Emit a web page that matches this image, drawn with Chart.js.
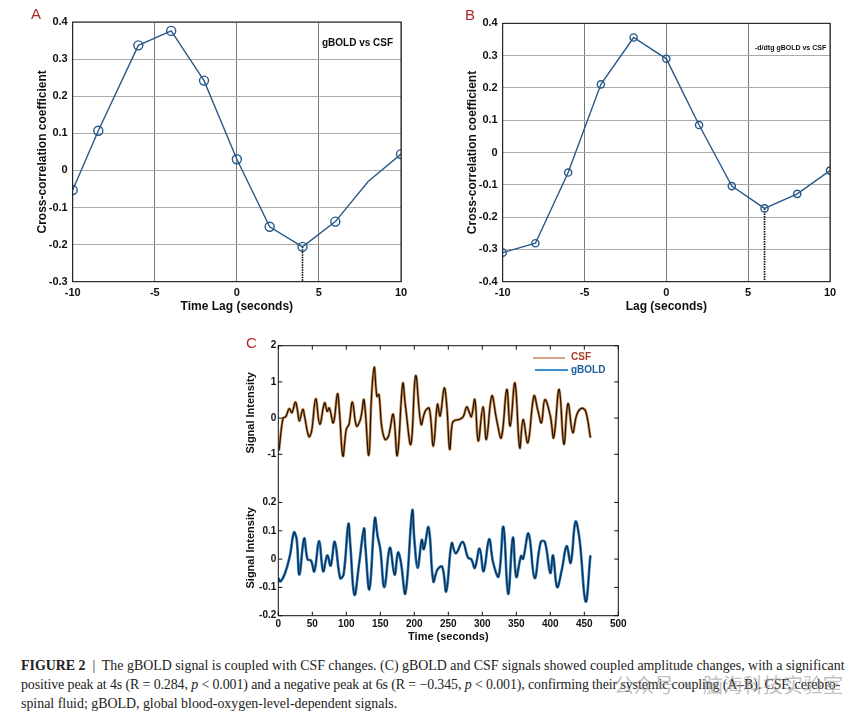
<!DOCTYPE html>
<html>
<head>
<meta charset="utf-8">
<script src="https://cdn.jsdelivr.net/npm/chart.js@4.4.0/dist/chart.umd.min.js"></script>
<style>
  body { margin: 0; background: #fff; width: 864px; height: 721px; position: relative; overflow: hidden; }
  canvas { position: absolute; }
  .lbl { position: absolute; font-family: "Liberation Sans", Arial, sans-serif; color: #b0282c; font-size: 15px; }
  .note { position: absolute; font-family: "Liberation Sans", Arial, sans-serif; color: #111; font-weight: bold; white-space: nowrap; }
  .cap { position: absolute; left: 21px; font-family: "Liberation Serif", "Times New Roman", serif; font-size: 13.9px; line-height: 19px; color: #222; white-space: nowrap; }
  .leg { position: absolute; height: 2px; }
  .legt { position: absolute; font-family: "Liberation Sans", Arial, sans-serif; font-weight: bold; font-size: 10px; }
  .wm { position: absolute; font-family: "Noto Sans CJK SC", sans-serif; font-size: 20px; color: rgba(140,140,140,0.55); white-space: nowrap; }
</style>
</head>
<body>
<canvas id="chartA" style="left:0;top:0;width:430px;height:320px"></canvas>
<canvas id="chartB" style="left:430px;top:0;width:434px;height:320px"></canvas>
<canvas id="chartC" style="left:230px;top:330px;width:400px;height:320px"></canvas>

<div class="lbl" style="left:31px;top:5px">A</div>
<div class="lbl" style="left:465px;top:6px">B</div>
<div class="lbl" style="left:246px;top:334px">C</div>
<div class="note" style="left:322px;top:37px;font-size:10px">gBOLD vs CSF</div>
<div class="note" style="left:755px;top:44px;font-size:7px">-d/dtg gBOLD vs CSF</div>

<div class="leg" style="left:533px;top:357px;width:32px;background:#d8a688"></div>
<div class="legt" style="left:571px;top:351px;color:#a53a28">CSF</div>
<div class="leg" style="left:535px;top:369px;width:33px;background:#3b8fd2"></div>
<div class="legt" style="left:571px;top:364px;color:#1f5c9e">gBOLD</div>

<div class="cap" style="top:656px"><b>FIGURE 2</b> &nbsp;|&nbsp; The gBOLD signal is coupled with CSF changes. (C) gBOLD and CSF signals showed coupled amplitude changes, with a significant</div>
<div class="cap" style="top:675px;letter-spacing:-0.1px">positive peak at 4s (R = 0.284, <i>p</i> &lt; 0.001) and a negative peak at 6s (R = −0.345, <i>p</i> &lt; 0.001), confirming their systemic coupling (A–B). CSF, cerebro-</div>
<div class="cap" style="top:694px">spinal fluid; gBOLD, global blood-oxygen-level-dependent signals.</div>
<div class="wm" style="left:614px;top:670px">公众号 · 脑海科技实验室</div>

<script>
// panel A: gBOLD vs CSF cross-correlation
const lagA = [-10, -8.44, -6, -4, -2, 0, 2, 4, 6, 8, 10];
const corrA = [-0.053, 0.107, 0.337, 0.376, 0.242, 0.030, -0.152, -0.206, -0.138, -0.03, 0.044];
const markA = [1, 1, 1, 1, 1, 1, 1, 1, 1, 0, 1];
const peakA = 7; // index of the min, dotted line drops from here

// panel B: -d/dt gBOLD vs CSF
const lagB = [-10, -8, -6, -4, -2, 0, 2, 4, 6, 8, 10];
const corrB = [-0.310, -0.281, -0.062, 0.211, 0.356, 0.290, 0.085, -0.104, -0.173, -0.128, -0.056];
const peakB = 8;

// panel C: time series (seconds)
const timeCsf = [1, 7, 11, 16, 20, 25, 28, 31, 36, 39, 45, 49, 55, 61, 68, 72, 75, 81, 87, 90, 95, 100, 104, 109, 115, 121, 126, 133, 137, 141, 145, 148, 152, 157, 162, 169, 175, 183, 187, 195, 202, 210, 216, 222, 228, 234, 238, 244, 248, 252, 256, 260, 266, 272, 277, 281, 284, 289, 294, 301, 306, 314, 321, 328, 336, 341, 348, 355, 360, 367, 376, 382, 387, 392, 400, 405, 413, 420, 426, 433, 439, 446, 452, 459];
const csf = [-0.9, 0.0, 0.04, 0.26, 0.15, 0.44, 0.24, -0.08, 0.24, 0.01, -0.51, -0.36, 0.53, -0.17, 0.42, 0.19, 0.28, -0.13, 0.67, 0.15, -1.05, -0.31, -0.17, 0.44, -0.22, -0.02, 0.5, -1.03, 0.56, 1.41, 0.6, 0.65, -0.22, -0.59, -0.5, 0.1, -1.03, 0.95, 0.33, -0.72, 1.17, -0.17, 0.19, 0.27, -0.77, 0.38, 0.06, 0.83, 0.28, -0.86, -0.13, -0.06, -0.04, 0.04, 0.31, 0.15, 0.04, 0.51, -0.63, 0.31, -0.59, 0.61, -0.04, -0.54, 0.79, -0.22, 0.97, -0.82, -0.04, -0.68, 0.61, 0.19, -0.13, 0.51, 0.06, -0.54, 0.79, -0.72, 0.4, -0.4, 0.1, 0.27, 0.19, -0.54];

const timeBold = [0, 3, 10, 17, 23, 27, 31, 38, 43, 48, 53, 60, 66, 72, 77, 83, 91, 96, 103, 106, 112, 119, 126, 128, 134, 142, 146, 150, 156, 164, 171, 176, 180, 187, 197, 200, 205, 211, 214, 221, 228, 234, 241, 247, 255, 261, 271, 279, 284, 289, 296, 302, 310, 316, 324, 331, 338, 345, 350, 357, 360, 368, 377, 386, 392, 400, 404, 410, 417, 424, 430, 437, 443, 452, 459];
const gbold = [-0.067, -0.079, -0.049, 0.011, 0.094, 0.07, -0.055, 0.073, -0.001, -0.005, -0.043, 0.064, -0.043, 0.013, -0.023, 0.061, -0.067, -0.055, 0.124, 0.046, -0.126, -0.013, 0.108, 0.046, -0.106, 0.144, 0.082, 0.035, -0.099, 0.04, -0.055, 0.023, -0.007, -0.12, 0.171, 0.07, -0.031, 0.068, 0.035, 0.112, -0.079, -0.037, -0.027, -0.114, 0.056, 0.02, 0.061, 0.005, -0.001, -0.031, 0.037, -0.043, 0.07, -0.013, -0.061, 0.114, -0.123, 0.076, -0.063, 0.011, 0.001, 0.09, -0.067, 0.061, 0.061, -0.049, 0.013, -0.099, -0.037, 0.046, -0.013, 0.132, 0.07, -0.15, 0.013];

const FONT = '"Liberation Sans", Arial, sans-serif';
const LINE_BLUE = '#27598a';

const boxPlugin = {
  id: 'box',
  afterDraw(chart) {
    const a = chart.chartArea, ctx = chart.ctx;
    ctx.save();
    ctx.strokeStyle = '#111';
    ctx.lineWidth = 1;
    ctx.strokeRect(a.left, a.top, a.right - a.left, a.bottom - a.top);
    ctx.restore();
  }
};

// MATLAB style inward ticks on every side
const inTicks = {
  id: 'inTicks',
  afterDraw(chart) {
    const a = chart.chartArea, ctx = chart.ctx, L = 4;
    ctx.save();
    ctx.strokeStyle = '#111';
    ctx.lineWidth = 1;
    ctx.beginPath();
    Object.values(chart.scales).forEach(s => {
      s.ticks.forEach(t => {
        if (s.isHorizontal()) {
          const x = s.getPixelForValue(t.value);
          ctx.moveTo(x, a.bottom); ctx.lineTo(x, a.bottom - L);
          ctx.moveTo(x, a.top); ctx.lineTo(x, a.top + L);
        } else {
          const y = s.getPixelForValue(t.value);
          ctx.moveTo(a.left, y); ctx.lineTo(a.left + L, y);
          ctx.moveTo(a.right, y); ctx.lineTo(a.right - L, y);
        }
      });
    });
    ctx.stroke();
    ctx.restore();
  }
};

function xcorrChart(id, lags, vals, marks, peak, xTitle, yMin, radius, top) {
  return new Chart(document.getElementById(id), {
    type: 'line',
    data: {
      datasets: [
        {
          data: lags.map((x, i) => ({ x: x, y: vals[i] })),
          borderColor: LINE_BLUE,
          borderWidth: 1.4,
          pointStyle: 'circle',
          pointRadius: marks.map(m => m ? radius : 0),
          pointBorderColor: LINE_BLUE,
          pointBorderWidth: 1.4,
          pointBackgroundColor: 'rgba(0,0,0,0)',
          tension: 0,
          order: 0
        },
        {
          data: [{ x: lags[peak], y: vals[peak] }, { x: lags[peak], y: yMin }],
          borderColor: '#000',
          borderWidth: 1.6,
          borderDash: [1.5, 1],
          pointRadius: 0,
          order: 1
        }
      ]
    },
    options: {
      responsive: false,
      animation: false,
      devicePixelRatio: 1,
      layout: { padding: { left: 31, top: top, right: id === 'chartA' ? 29 : 34, bottom: 2 } },
      plugins: { legend: { display: false }, tooltip: { enabled: false } },
      scales: {
        x: {
          type: 'linear', min: -10, max: 10,
          afterFit: s => { s.height = 36.3; },
          ticks: { stepSize: 5, padding: 5, color: '#111', font: { family: FONT, size: 11, weight: 'bold' } },
          grid: { color: '#7a7a7a', drawTicks: false },
          border: { display: false },
          title: { display: true, text: xTitle, color: '#111', font: { family: FONT, size: 12, weight: 'bold' }, padding: { top: 0, bottom: 4 } }
        },
        y: {
          type: 'linear', min: yMin, max: 0.4,
          afterFit: s => { s.width = 41.7; },
          ticks: { stepSize: 0.1, padding: 5, color: '#111', font: { family: FONT, size: 11, weight: 'bold' } },
          grid: { color: '#ababab', drawTicks: false },
          border: { display: false },
          title: { display: true, text: 'Cross-correlation coefficient', color: '#111', font: { family: FONT, size: 12, weight: 'bold' }, padding: { top: 4, bottom: 0 } }
        }
      }
    },
    plugins: [boxPlugin]
  });
}

// canvases are drawn at 1:1
['chartA', 'chartB', 'chartC'].forEach(id => {
  const c = document.getElementById(id);
  c.width = parseInt(c.style.width);
  c.height = parseInt(c.style.height);
});

xcorrChart('chartA', lagA, corrA, markA, peakA, 'Time Lag (seconds)', -0.3, 4.5, 22);
xcorrChart('chartB', lagB, corrB, lagB.map(() => 1), peakB, 'Lag (seconds)', -0.4, 3.6, 23.3);

const tickFontC = { family: FONT, size: 10, weight: 'bold' };
const titleFontC = { family: FONT, size: 11, weight: 'bold' };

new Chart(document.getElementById('chartC'), {
  type: 'line',
  data: {
    datasets: [
      {
        data: timeCsf.map((t, i) => ({ x: t, y: csf[i] })),
        yAxisID: 'yTop', borderColor: '#1c140c', borderWidth: 1.2,
        pointRadius: 0, tension: 0.4, order: 0
      },
      {
        data: timeCsf.map((t, i) => ({ x: t, y: csf[i] })),
        yAxisID: 'yTop', borderColor: '#d08a48', borderWidth: 2.7,
        pointRadius: 0, tension: 0.4, order: 1
      },
      {
        data: timeBold.map((t, i) => ({ x: t, y: gbold[i] })),
        yAxisID: 'yBot', borderColor: '#11294a', borderWidth: 1.2,
        pointRadius: 0, tension: 0.4, order: 0
      },
      {
        data: timeBold.map((t, i) => ({ x: t, y: gbold[i] })),
        yAxisID: 'yBot', borderColor: '#2a80c0', borderWidth: 2.7,
        pointRadius: 0, tension: 0.4, order: 1
      }
    ]
  },
  options: {
    responsive: false,
    animation: false,
    devicePixelRatio: 1,
    layout: { padding: { left: 14.4, top: 15.7, right: 11.7, bottom: 2 } },
    plugins: { legend: { display: false }, tooltip: { enabled: false } },
    scales: {
      x: {
        type: 'linear', min: 0, max: 500,
        afterFit: s => { s.height = 32.3; },
        ticks: { stepSize: 50, padding: 3, color: '#111', font: tickFontC },
        grid: { display: false, drawTicks: false },
        border: { display: false },
        title: { display: true, text: 'Time (seconds)', color: '#111', font: titleFontC, padding: { top: 0, bottom: 4 } }
      },
      yBot: {
        type: 'linear', position: 'left', stack: 'c', stackWeight: 135.7,
        min: -0.2, max: 0.2795,
        afterFit: s => { s.width = 33.9; },
        ticks: { stepSize: 0.1, includeBounds: false, padding: 2, color: '#111', font: tickFontC },
        grid: { display: false, drawTicks: false },
        border: { display: false },
        title: { display: true, text: 'Signal Intensity', color: '#111', font: titleFontC, padding: { top: 0, bottom: 0 } }
      },
      yTop: {
        type: 'linear', position: 'left', stack: 'c', stackWeight: 134.3,
        min: -1.71, max: 2,
        afterFit: s => { s.width = 33.9; },
        ticks: { stepSize: 1, includeBounds: false, padding: 2, color: '#111', font: tickFontC },
        grid: { display: false, drawTicks: false },
        border: { display: false },
        title: { display: true, text: 'Signal Intensity', color: '#111', font: titleFontC, padding: { top: 0, bottom: 0 } }
      }
    }
  },
  plugins: [boxPlugin, inTicks]
});
</script>
</body>
</html>
